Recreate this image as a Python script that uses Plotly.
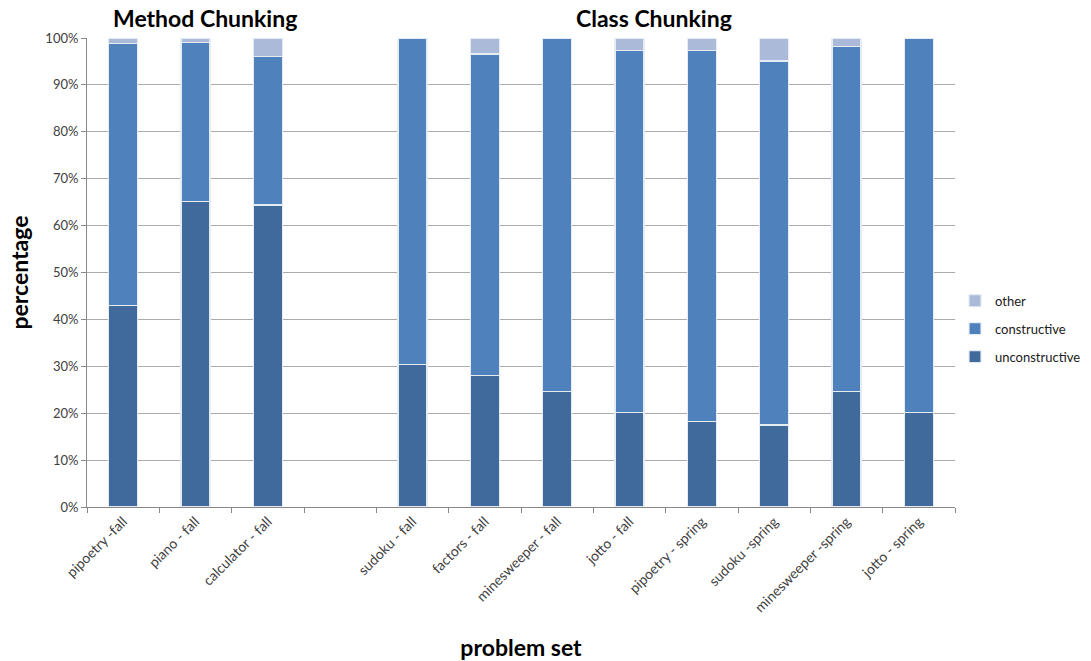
import plotly.graph_objects as go

# Problem sets (blank slot separates method-chunking from class-chunking sets)
categories = [
    "pipoetry -fall", "piano - fall", "calculator - fall", " ",
    "sudoku - fall", "factors - fall", "minesweeper - fall", "jotto - fall",
    "pipoetry - spring", "sudoku -spring", "minesweeper -spring", "jotto - spring",
]

# Share of each kind of comment, in percent
unconstructive = [42.9, 65.2, 64.4, None, 30.4, 28.0, 24.6, 20.1, 18.3, 17.5, 24.6, 20.1]
constructive = [56.0, 33.8, 31.6, None, 69.6, 68.6, 75.4, 77.3, 79.1, 77.6, 73.6, 79.9]
other = [1.1, 1.0, 4.0, None, 0.0, 3.4, 0.0, 2.6, 2.6, 4.9, 1.8, 0.0]

series = [
    ("unconstructive", unconstructive, "#3F6A9B"),
    ("constructive", constructive, "#4F81BD"),
    ("other", other, "#AABAD8"),
]

FONT = "Lato, 'Open Sans', sans-serif"

fig = go.Figure()
for i, (name, vals, color) in enumerate(series):
    fig.add_trace(go.Bar(
        x=categories, y=vals, name=name, legendgroup=name,
        legendrank=len(series) - i,
        marker=dict(color=color, line=dict(color="#E6ECF4", width=1.2)),
    ))

fig.update_layout(
    barmode="stack",
    bargap=0.6,
    width=1091, height=661,
    margin=dict(l=87, r=136, t=38, b=154, autoexpand=False),
    paper_bgcolor="white", plot_bgcolor="white",
    font=dict(family=FONT, size=13, color="#404040"),
    legend=dict(
        traceorder="grouped",
        x=1.0, y=0.38, xanchor="left", yanchor="middle",
        font=dict(size=13, color="#202020"),
        itemwidth=30, tracegroupgap=8,
        bgcolor="rgba(0,0,0,0)",
    ),
    annotations=[
        dict(text="<b>Method Chunking</b>", x=0.136, xanchor="center",
             y=1.0 + 20 / 469, yanchor="middle", xref="paper", yref="paper",
             showarrow=False, font=dict(size=23, color="black", family=FONT)),
        dict(text="<b>Class Chunking</b>", x=0.653, xanchor="center",
             y=1.0 + 20 / 469, yanchor="middle", xref="paper", yref="paper",
             showarrow=False, font=dict(size=23, color="black", family=FONT)),
    ],
)

fig.update_xaxes(
    type="category",
    categoryorder="array", categoryarray=categories,
    tickangle=-45,
    tickson="boundaries",
    ticks="outside", ticklen=5, tickcolor="#888888",
    showline=True, linecolor="#888888", linewidth=1,
    showgrid=False,
    tickfont=dict(size=14, color="#404040"),
    title=dict(text="<b>problem set</b>", font=dict(size=23, color="black"), standoff=28),
)
fig.update_yaxes(
    range=[0, 100],
    tickvals=list(range(0, 101, 10)),
    ticktext=[f"{v}%" for v in range(0, 101, 10)],
    ticks="outside", ticklen=5, tickcolor="#888888",
    showline=True, linecolor="#888888", linewidth=1,
    showgrid=True, gridcolor="#ABABAB", gridwidth=1,
    tickfont=dict(size=13, color="#404040"),
    title=dict(text="<b>percentage</b>", font=dict(size=23, color="black"), standoff=10),
    zeroline=False,
)

fig.write_html("out.html")
